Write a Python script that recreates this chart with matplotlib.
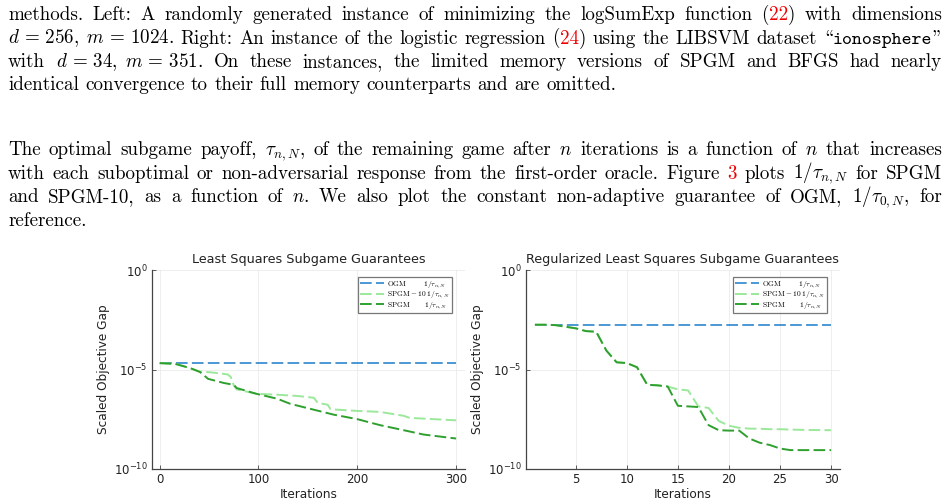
import re
import matplotlib
matplotlib.use("Agg")
import matplotlib.pyplot as plt
from matplotlib.font_manager import FontProperties

################ chart data ################
# left: least squares, 300 iterations
ls_ogm_x = [0, 300]
ls_ogm_y = [2.09e-5, 2.09e-5]

ls_spgm10_x = [0, 16, 31, 41, 49, 59, 69, 72, 75, 78, 98, 119, 139, 156, 160,
               170, 173, 200, 223, 247, 253, 300]
ls_spgm10_y = [2.09e-5, 1.91e-5, 1.17e-5, 7.9e-6, 7.4e-6, 6.6e-6, 5.6e-6, 4.2e-6,
               1.6e-6, 1.0e-6, 6.0e-7, 5.4e-7, 4.7e-7, 3.8e-7, 2.1e-7, 1.7e-7,
               1.0e-7, 8.3e-8, 7.4e-8, 4.7e-8, 3.7e-8, 2.8e-8]

ls_spgm_x = [0, 16, 31, 41, 49, 65, 75, 78, 98, 119, 132, 152, 176, 200, 223,
             247, 267, 300]
ls_spgm_y = [2.09e-5, 1.91e-5, 1.17e-5, 7.4e-6, 3.4e-6, 2.1e-6, 1.7e-6, 1.17e-6,
             6.0e-7, 3.4e-7, 1.9e-7, 1.07e-7, 5.4e-8, 3.2e-8, 1.6e-8, 8.9e-9,
             5.4e-9, 3.4e-9]

# right: regularized least squares, 30 iterations
rls_iters = list(range(1, 31))
rls_ogm = [1.78e-3] * 30
rls_spgm10 = [1.78e-3, 1.78e-3, 1.7e-3, 1.41e-3, 1.17e-3, 8.5e-4, 7.9e-4, 8.9e-5,
              2.3e-5, 2.1e-5, 1.3e-5, 1.7e-6, 1.6e-6, 1.4e-6, 1.0e-6, 8.9e-7,
              1.4e-7, 1.17e-7, 2.6e-8, 1.5e-8, 1.17e-8, 1.07e-8, 1.05e-8, 1.0e-8,
              1.0e-8, 9.6e-9, 9.3e-9, 9.1e-9, 9.0e-9, 8.9e-9]
rls_spgm = [1.78e-3, 1.78e-3, 1.7e-3, 1.41e-3, 1.17e-3, 8.5e-4, 7.9e-4, 8.9e-5,
            2.3e-5, 2.1e-5, 1.3e-5, 1.7e-6, 1.6e-6, 1.4e-6, 1.5e-7, 1.4e-7,
            1.3e-7, 1.6e-8, 8.9e-9, 8.5e-9, 8.5e-9, 3.4e-9, 2.1e-9, 1.6e-9,
            1.07e-9, 8.9e-10, 8.9e-10, 8.9e-10, 8.9e-10, 8.9e-10]

series_names = [r"$\mathrm{OGM}\hspace{2.7}1/\tau_{n,N}$",
                r"$\mathrm{SPGM}-10\hspace{0.3}1/\tau_{n,N}$",
                r"$\mathrm{SPGM}\hspace{2.35}1/\tau_{n,N}$"]
titles = ["Least Squares Subgame Guarantees",
          "Regularized Least Squares Subgame Guarantees"]

################ page text ################
# «..» = red reference, ‹..› = typewriter; in cmr10 "\" is the open quote, '"' the close quote
para1 = [
    "methods. Left: A randomly generated instance of minimizing the logSumExp function («22») with dimensions",
    r"$d\,=\,256,\;m\,=\,1024$. Right: An instance of the logistic regression («24») using the LIBSVM dataset \‹ionosphere›" + '"',
    r"with $d\,=\,34,\;m\,=\,351$. On these instances, the limited memory versions of SPGM and BFGS had nearly",
    "identical convergence to their full memory counterparts and are omitted.",
]
para2 = [
    r"The optimal subgame payoff, $\tau_{n,N}$, of the remaining game after $n$ iterations is a function of $n$ that increases",
    r"with each suboptimal or non-adversarial response from the first-order oracle. Figure «3» plots $1/\tau_{n,N}$ for SPGM",
    r"and SPGM-10, as a function of $n$. We also plot the constant non-adaptive guarantee of OGM, $1/\tau_{0,N}$, for",
    "reference.",
]
para1_base = [20, 43.5, 67, 90.5]
para2_base = [155, 178.5, 202, 225.5]

W, H = 952, 504
BODY = 13.7


def draw_line(fig, rend, line, y, justify, x0=8, x1=942):
    words = line.split(" ")
    placed = []
    for word in words:
        chunks = []
        for part in re.split(r"(«[^»]*»|‹[^›]*›)", word):
            if part == "":
                continue
            color = "black"
            fam = ["cmr10", "DejaVu Serif"]
            if part.startswith("«"):
                part = part[1:-1]
                color = "#ee0000"
            elif part.startswith("‹"):
                part = part[1:-1]
                fam = ["cmtt10", "DejaVu Sans Mono"]
            t = fig.text(0, 1 - y / H, part, fontsize=BODY, color=color,
                         family=fam, math_fontfamily="cm", va="baseline", ha="left")
            w = t.get_window_extent(rend).width
            chunks.append((t, w))
        placed.append(chunks)
    widths = [sum(w for _, w in c) for c in placed]
    if justify and len(placed) > 1:
        gap = (x1 - x0 - sum(widths)) / (len(placed) - 1)
    else:
        gap = BODY * 100 / 72 * 0.333
    x = x0
    for chunks in placed:
        for t, w in chunks:
            t.set_x(x / W)
            x += w
        x += gap


def style_axes(ax, title):
    ax.set_yscale("log")
    ax.set_ylim(1e-10, 1e0)
    ax.set_yticks([1e-10, 1e-5, 1e0])
    ax.minorticks_off()
    for s in ["top", "right"]:
        ax.spines[s].set_visible(False)
    for s in ["left", "bottom"]:
        ax.spines[s].set_color("#444444")
        ax.spines[s].set_linewidth(0.9)
    ax.tick_params(direction="in", length=3, width=0.6, color="#444444",
                   labelsize=8.5, labelcolor="#222222", pad=3)
    ax.grid(True, color="#ebebeb", linewidth=0.6)
    ax.set_axisbelow(True)
    ax.set_title(title, fontsize=9.2, color="#222222", pad=5)
    ax.set_xlabel("Iterations", fontsize=8.7, color="#222222", labelpad=1)
    ax.set_ylabel("Scaled Objective Gap", fontsize=8.7, color="#222222", labelpad=3)


plt.rcParams["mathtext.fontset"] = "dejavusans"
fig = plt.figure(figsize=(W / 100, H / 100), dpi=100)
rend = fig.canvas.get_renderer()

for i, line in enumerate(para1):
    draw_line(fig, rend, line, para1_base[i], i < len(para1) - 1)
for i, line in enumerate(para2):
    draw_line(fig, rend, line, para2_base[i], i < len(para2) - 1)

colors = ["#4b97d3", "#9be89b", "#2fa02f"]
dash = (6, 2.2)
leg_font = FontProperties(family="cmr10", size=5.4, math_fontfamily="cm")

ax1 = fig.add_axes([151.7 / W, 1 - 469 / H, 313.3 / W, 199 / H])
ax1.plot(ls_ogm_x, ls_ogm_y, color=colors[0], lw=1.4, dashes=dash, label=series_names[0])
ax1.plot(ls_spgm10_x, ls_spgm10_y, color=colors[1], lw=1.4, dashes=dash, label=series_names[1])
ax1.plot(ls_spgm_x, ls_spgm_y, color=colors[2], lw=1.4, dashes=dash, label=series_names[2])
style_axes(ax1, titles[0])
ax1.set_xlim(-8, 309)
ax1.set_xticks([0, 100, 200, 300])

ax2 = fig.add_axes([526 / W, 1 - 469 / H, 314 / W, 199 / H])
ax2.plot(rls_iters, rls_ogm, color=colors[0], lw=1.4, dashes=dash, label=series_names[0])
ax2.plot(rls_iters, rls_spgm10, color=colors[1], lw=1.4, dashes=dash, label=series_names[1])
ax2.plot(rls_iters, rls_spgm, color=colors[2], lw=1.4, dashes=dash, label=series_names[2])
style_axes(ax2, titles[1])
ax2.set_xlim(0.13, 30.87)
ax2.set_xticks([5, 10, 15, 20, 25, 30])

for ax in (ax1, ax2):
    leg = ax.legend(loc="upper right", bbox_to_anchor=(0.958, 0.965), prop=leg_font,
                    frameon=True, fancybox=False, edgecolor="#555555",
                    handlelength=3.2, handletextpad=0.4, labelspacing=0.0,
                    borderpad=0.3, borderaxespad=0)
    leg.get_frame().set_linewidth(0.9)

fig.savefig("out.png", dpi=100)
